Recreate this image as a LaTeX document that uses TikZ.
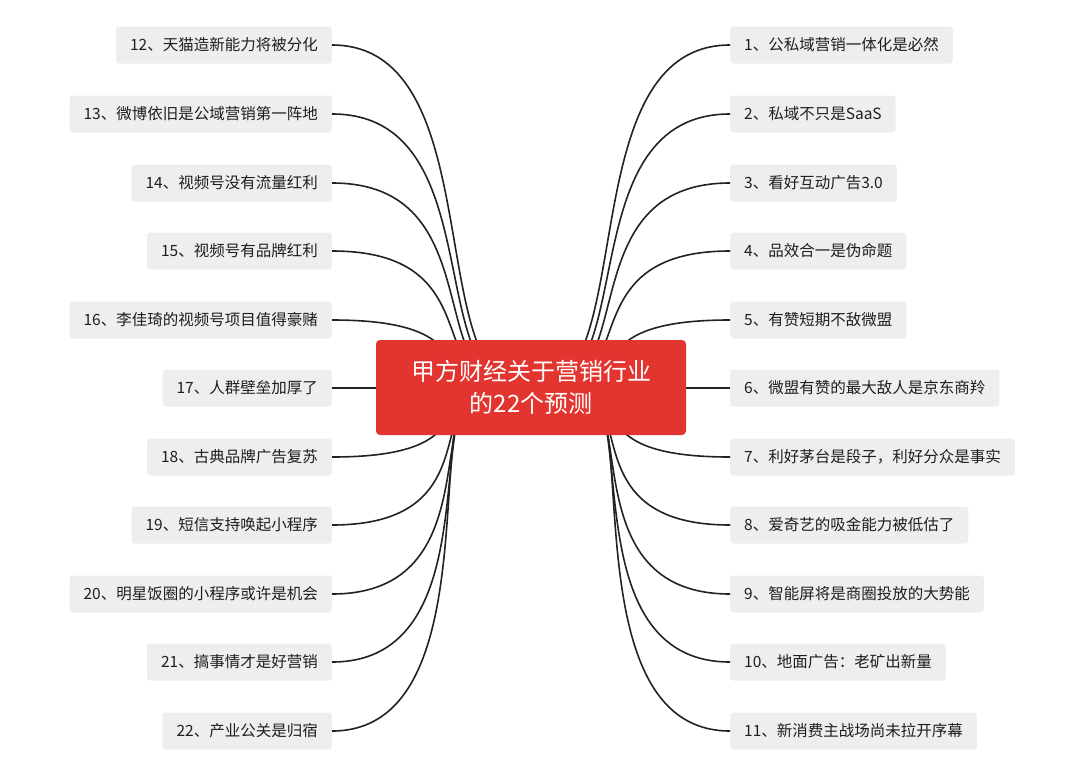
\documentclass[tikz,border=0pt]{standalone}
\usepackage{fontspec}
\setmainfont{Noto Sans CJK SC}
\begin{document}
\begin{tikzpicture}[x=1pt,y=-1pt,
  leaf/.style={fill=leafgray,rounded corners=3pt,minimum height=37pt,inner xsep=14pt,font=\fontsize{15.5}{17}\selectfont,text=textdark},
  conn/.style={draw=linedark,line width=1.6pt}]
\definecolor{leafgray}{HTML}{EEEEEE}
\definecolor{textdark}{HTML}{1E1E1E}
\definecolor{linedark}{HTML}{222222}
\definecolor{rootred}{HTML}{E33530}
\useasboundingbox (0,0) rectangle (1080,769);
\def\ys{{45,114,183,251,320,388,457,525,594,662,731}}
\foreach \t [count=\i] in {1、公私域营销一体化是必然,2、私域不只是SaaS,3、看好互动广告3.0,4、品效合一是伪命题,5、有赞短期不敌微盟,6、微盟有赞的最大敌人是京东商羚,7、利好茅台是段子，利好分众是事实,8、爱奇艺的吸金能力被低估了,9、智能屏将是商圈投放的大势能,10、地面广告：老矿出新量,11、新消费主战场尚未拉开序幕}{
  \pgfmathsetmacro\yy{\ys[\i-1]}
  \node[leaf,anchor=west] (r\i) at (730,\yy) {\t};
  \coordinate (rs\i) at (531+\i*5,388);
  \draw[conn] (rs\i) .. controls (640,388) and (570,\yy) .. (r\i.west);
}
\foreach \t [count=\i] in {12、天猫造新能力将被分化,13、微博依旧是公域营销第一阵地,14、视频号没有流量红利,15、视频号有品牌红利,16、李佳琦的视频号项目值得豪赌,17、人群壁垒加厚了,18、古典品牌广告复苏,19、短信支持唤起小程序,20、明星饭圈的小程序或许是机会,21、搞事情才是好营销,22、产业公关是归宿}{
  \pgfmathsetmacro\yy{\ys[\i-1]}
  \node[leaf,anchor=east] (l\i) at (332,\yy) {\t};
  \coordinate (ls\i) at (531-\i*5,388);
  \draw[conn] (ls\i) .. controls (422,388) and (492,\yy) .. (l\i.east);
}
\node[fill=rootred,rounded corners=4pt,minimum width=310pt,minimum height=95pt,text=white,align=center,font=\fontsize{24}{32}\selectfont] (root) at (531,387.5) {甲方财经关于营销行业\\的22个预测};
\end{tikzpicture}
\end{document}
